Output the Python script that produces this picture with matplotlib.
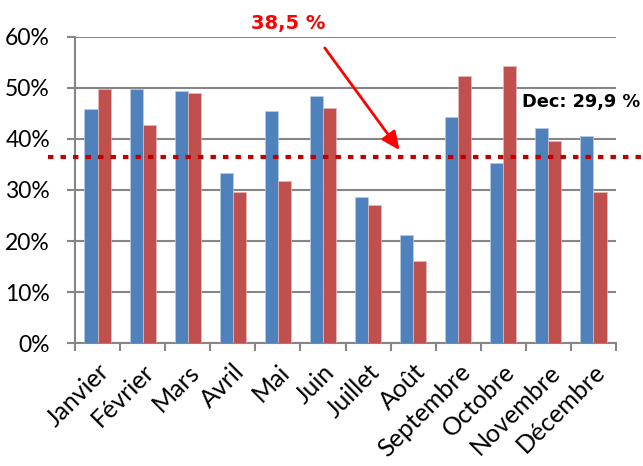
import matplotlib
matplotlib.use("Agg")
import matplotlib.pyplot as plt
import numpy as np
from matplotlib.ticker import FuncFormatter, FixedLocator

months = ["Janvier", "Février", "Mars", "Avril", "Mai", "Juin", "Juillet",
          "Août", "Septembre", "Octobre", "Novembre", "Décembre"]
series_blue = [45.8, 49.8, 49.3, 33.3, 45.4, 48.4, 28.6, 21.1, 44.2, 35.2, 42.2, 40.6]
series_red = [49.7, 42.7, 48.9, 29.7, 31.7, 46.1, 27.0, 16.1, 52.4, 54.3, 39.5, 29.7]
avg_line = 36.5
label_avg = "38,5 %"
label_dec = "Dec: 29,9 %"

BLUE = "#4F81BD"
RED = "#C0504D"
GRID = "#868686"

fig = plt.figure(figsize=(6.43, 4.66), dpi=100)
ax = fig.add_axes([75/643, 1-343.3/466, 541/643, (343.3-36.7)/466])

x = np.arange(len(months))
w = 0.29
ax.bar(x - w/2, series_blue, w, color=BLUE, edgecolor="#B8CCE4", linewidth=0.5, zorder=3)
ax.bar(x + w/2, series_red, w, color=RED, edgecolor="#E6B9B8", linewidth=0.5, zorder=3)

ax.set_xlim(-0.5, len(months) - 0.5)
ax.set_ylim(0, 60)
ax.set_yticks(np.arange(0, 61, 10))
ax.yaxis.set_major_formatter(FuncFormatter(lambda v, p: f"{int(v)}%"))
ax.yaxis.grid(True, color=GRID, linewidth=1.5, zorder=0)
ax.set_axisbelow(True)

for s in ["top", "right"]:
    ax.spines[s].set_visible(False)
for s in ["left", "bottom"]:
    ax.spines[s].set_color(GRID)
    ax.spines[s].set_linewidth(1.5)

ax.set_xticks(x)
ax.set_xticklabels(months, rotation=45, ha="right", rotation_mode="anchor",
                   fontsize=18, family="Lato")
ax.xaxis.set_minor_locator(FixedLocator(np.arange(-0.5, len(months), 1)))
ax.tick_params(axis="x", which="major", length=0, pad=12)
ax.tick_params(axis="x", which="minor", length=6, width=1.5, color=GRID, direction="out")
ax.tick_params(axis="y", length=6, width=1.5, color=GRID, direction="out", pad=12)
for t in ax.get_yticklabels():
    t.set_fontsize(16.5)
    t.set_family("Lato")

ax.axhline(avg_line, xmin=-0.05, xmax=1.06, color="#C00000", linewidth=3,
           linestyle=(0, (1.3, 1.7)), dash_capstyle="butt", clip_on=False, zorder=4)

ax.annotate("", xy=(6.7, 37.8), xytext=(5.04, 57.8),
            arrowprops=dict(arrowstyle="-|>,head_length=1.1,head_width=0.5",
                            color="#FF0000", linewidth=2, shrinkA=0, shrinkB=0),
            annotation_clip=False, zorder=5)
ax.text(4.22, 62.6, label_avg, color="#FF0000", fontsize=14, fontweight="bold",
        ha="center", va="center", family="DejaVu Sans", clip_on=False)
fig.text(522/643, 1-102/466, label_dec, color="black", fontsize=12.8, fontweight="bold",
         ha="left", va="center", family="DejaVu Sans")

fig.savefig("out.png", dpi=100)
